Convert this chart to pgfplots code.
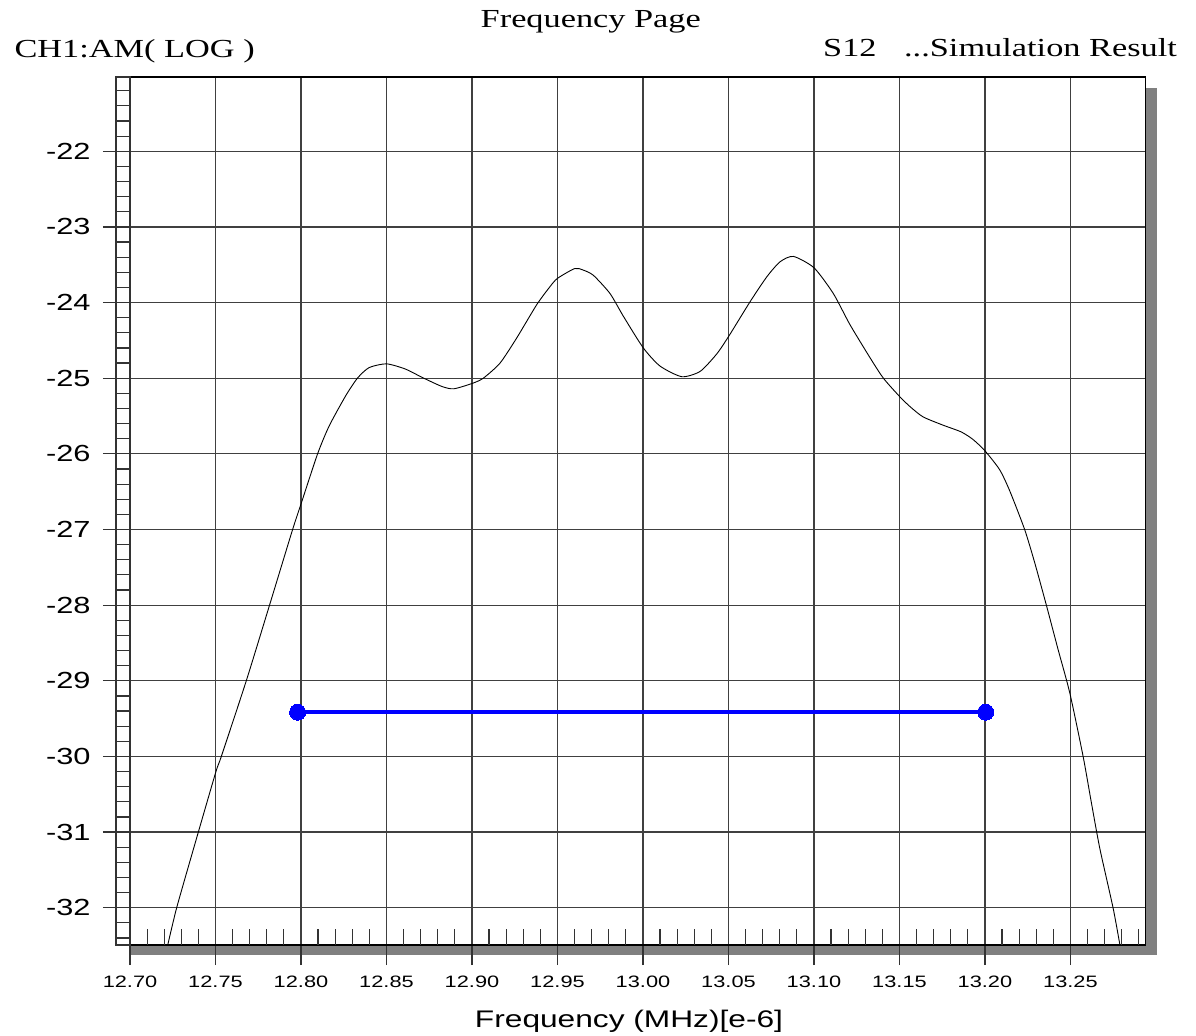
\documentclass[border=0pt]{standalone}
\usepackage{fontspec}
\setmainfont{Liberation Serif}[FakeStretch=1.32]
\setsansfont{Liberation Sans}[FakeStretch=1.32]
\usepackage{pgfplots}
\pgfplotsset{compat=1.18}

\pgfplotsset{
  frame/.style={
    scale only axis, width=1015.7bp, height=868bp,
    xmin=12.70, xmax=13.294, ymin=-32.493, ymax=-21.018,
    at={(0,0)}, anchor=south west,
    tick pos=left,
    tick style={black!80, line width=1.2bp},
  },
}

\begin{document}
\begin{tikzpicture}
% long y ticks (reach further left than the x ones)
\begin{axis}[frame,
  xtick=\empty, ytick={-32,-31,-30,-29,-28,-27,-26,-25,-24,-23,-22},
  yticklabels={}, tick align=outside, major tick length=27bp,
  axis line style={draw=none}]
\end{axis}
% small x ticks sitting inside the frame
\begin{axis}[frame,
  ytick=\empty,
  xtick={12.71,12.72,12.73,12.74,12.76,12.77,12.78,12.79,12.81,12.82,12.83,12.84,
         12.86,12.87,12.88,12.89,12.91,12.92,12.93,12.94,12.96,12.97,12.98,12.99,
         13.01,13.02,13.03,13.04,13.06,13.07,13.08,13.09,13.11,13.12,13.13,13.14,
         13.16,13.17,13.18,13.19,13.21,13.22,13.23,13.24,13.26,13.27,13.28,13.29},
  xticklabels={}, tick align=inside, major tick length=16bp,
  axis line style={draw=none}]
\end{axis}
\begin{axis}[frame, name=ax, set layers, clip=false,
  grid=major, major grid style={black!75, line width=1.2bp},
  axis line style={black, line width=1.5bp},
  xtick={12.70,12.75,12.80,12.85,12.90,12.95,13.00,13.05,13.10,13.15,13.20,13.25},
  ytick={-32,-31,-30,-29,-28,-27,-26,-25,-24,-23,-22},
  minor ytick={-32.4,-32.2,...,-21.2},
  tick align=outside, major tick length=20bp, minor tick length=14bp,
  /pgf/number format/assume math mode=true,
  xticklabel style={font=\sffamily\fontsize{16.5bp}{20bp}\selectfont, yshift=-7bp,
    /pgf/number format/.cd, fixed, fixed zerofill, precision=2},
  yticklabel style={font=\sffamily\fontsize{23.3bp}{28bp}\selectfont, xshift=-16bp},
]
\begin{pgfonlayer}{axis background}
  \fill[black!50] ([yshift=-11bp]rel axis cs:1,1) rectangle ([xshift=11.3bp,yshift=-10bp]rel axis cs:1,0);
  \fill[black!50] (rel axis cs:0,0) rectangle ([xshift=11.3bp,yshift=-10bp]rel axis cs:1,0);
\end{pgfonlayer}
\addplot[black, line width=0.9bp, smooth, tension=0.4] coordinates {
  (12.7221,-32.49) (12.7273,-32.00) (12.7369,-31.24) (12.7500,-30.22)
  (12.7534,-30.00) (12.7680,-29.00) (12.7816,-28.00) (12.7951,-27.00)
  (12.8002,-26.65) (12.8097,-26.00) (12.8165,-25.63) (12.8262,-25.23)
  (12.8330,-25.00) (12.8398,-24.86) (12.8500,-24.81) (12.8612,-24.88)
  (12.8709,-24.99) (12.8825,-25.11) (12.8893,-25.14) (12.9000,-25.07)
  (12.9066,-25.00) (12.9164,-24.80) (12.9261,-24.47) (12.9378,-24.03)
  (12.9456,-23.79) (12.9500,-23.68) (12.9601,-23.55) (12.9650,-23.57)
  (12.9710,-23.64) (12.9807,-23.88) (12.9885,-24.18) (13.0002,-24.60)
  (13.0100,-24.84) (13.0227,-24.98) (13.0334,-24.91) (13.0431,-24.68)
  (13.0503,-24.44) (13.0626,-23.99) (13.0724,-23.66) (13.0802,-23.46)
  (13.0880,-23.39) (13.1000,-23.54) (13.1113,-23.88) (13.1210,-24.29)
  (13.1328,-24.73) (13.1406,-25.00) (13.1500,-25.24) (13.1559,-25.37)
  (13.1637,-25.51) (13.1754,-25.62) (13.1861,-25.71) (13.1930,-25.81)
  (13.2000,-25.96) (13.2086,-26.21) (13.2145,-26.49) (13.2232,-27.00)
  (13.2291,-27.44) (13.2359,-28.00) (13.2428,-28.59) (13.2496,-29.16)
  (13.2574,-30.00) (13.2623,-30.62) (13.2672,-31.22) (13.2749,-32.00)
  (13.2789,-32.49)
};
\addplot[blue, line width=3.5bp, mark=*, mark size=8bp, mark options={fill=blue, line width=0pt}]
  coordinates {(12.798,-29.415) (13.2004,-29.415)};
\end{axis}
% strip holding the small y ticks
\draw[black!80, line width=1.2bp] ([xshift=-14bp]ax.south west) rectangle (ax.north west);
\node[font=\fontsize{26bp}{30bp}\selectfont, anchor=base] at ([shift={(460.8bp,49bp)}]ax.north west) {Frequency Page};
\node[font=\fontsize{26bp}{30bp}\selectfont, anchor=base west] at ([shift={(-119bp,19bp)}]ax.north west) {CH1:AM( LOG )};
\node[font=\fontsize{26bp}{30bp}\selectfont, anchor=base west, inner sep=0pt] at ([shift={(693bp,20bp)}]ax.north west) {S12};
\node[font=\fontsize{26bp}{30bp}\selectfont, anchor=base east, inner sep=0pt] at ([shift={(1047bp,20bp)}]ax.north west) {...Simulation Result};
\node[font=\sffamily\fontsize{24bp}{28bp}\selectfont, anchor=base] at ([shift={(499bp,-82bp)}]ax.south west) {Frequency (MHz)[e-6]};
\pgfresetboundingbox
\path[use as bounding box] ([shift={(-130bp,-90bp)}]ax.south west) rectangle ([shift={(50.3bp,77bp)}]ax.north east);
\end{tikzpicture}
\end{document}
